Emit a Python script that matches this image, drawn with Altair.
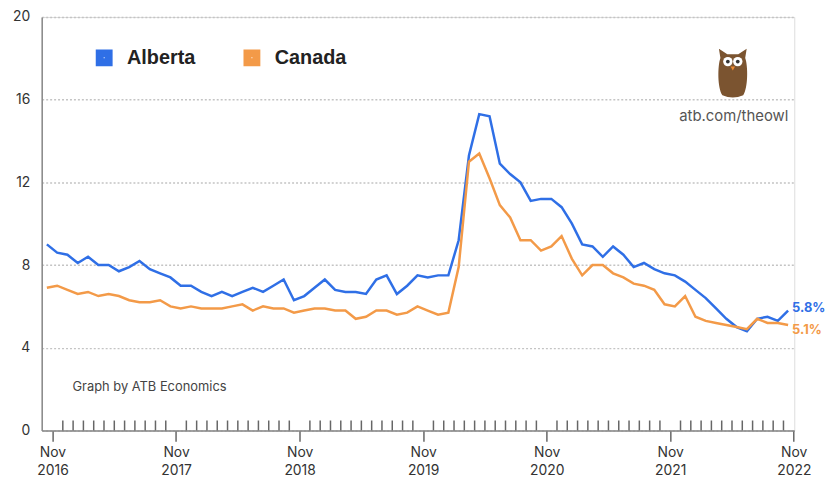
import altair as alt
import pandas as pd

# ---- data (month index 0 = Nov 2016 ... 72 = Nov 2022) ----
months = list(range(73))
alberta = [9.0, 8.6, 8.5, 8.1, 8.4, 8.0, 8.0, 7.7, 7.9, 8.2, 7.8, 7.6,
           7.4, 7.0, 7.0, 6.7, 6.5, 6.7, 6.5, 6.7, 6.9, 6.7, 7.0, 7.3,
           6.3, 6.5, 6.9, 7.3, 6.8, 6.7, 6.7, 6.6, 7.3, 7.5, 6.6, 7.0,
           7.5, 7.4, 7.5, 7.5, 9.2, 13.3, 15.3, 15.2, 12.9, 12.4, 12.0, 11.1,
           11.2, 11.2, 10.8, 10.0, 9.0, 8.9, 8.4, 8.9, 8.5, 7.9, 8.1, 7.8,
           7.6, 7.5, 7.2, 6.8, 6.4, 5.9, 5.4, 5.0, 4.8, 5.4, 5.5, 5.3,
           5.8]
canada = [6.9, 7.0, 6.8, 6.6, 6.7, 6.5, 6.6, 6.5, 6.3, 6.2, 6.2, 6.3,
          6.0, 5.9, 6.0, 5.9, 5.9, 5.9, 6.0, 6.1, 5.8, 6.0, 5.9, 5.9,
          5.7, 5.8, 5.9, 5.9, 5.8, 5.8, 5.4, 5.5, 5.8, 5.8, 5.6, 5.7,
          6.0, 5.8, 5.6, 5.7, 7.9, 13.0, 13.4, 12.2, 10.9, 10.3, 9.2, 9.2,
          8.7, 8.9, 9.4, 8.3, 7.5, 8.0, 8.0, 7.6, 7.4, 7.1, 7.0, 6.8,
          6.1, 6.0, 6.5, 5.5, 5.3, 5.2, 5.1, 5.0, 4.9, 5.4, 5.2, 5.2,
          5.1]
series_names = ["Alberta", "Canada"]
series_colors = ["#2f6fe6", "#f39a48"]
tick_month = "Nov"
tick_years = [2016, 2017, 2018, 2019, 2020, 2021, 2022]
y_ticks = [0, 4, 8, 12, 16, 20]
credit_text = ["Graph by ATB Economics"]
site_text = ["atb.com/theowl"]

rows = []
for name, vals in zip(series_names, [alberta, canada]):
    for m, v in zip(months, vals):
        rows.append({"m": m, "series": name, "rate": v})
df = pd.DataFrame(rows)

tick_offset = 0.55
major_ticks = [tick_offset + 12 * k for k in range(len(tick_years))]
minor_df = pd.DataFrame({"t": [tick_offset + i for i in range(1, 72) if i % 12 != 0]})

label_expr = "[" + ",".join(f"['{tick_month}','{y}']" for y in tick_years) + "]" \
    + f"[round((datum.value - {tick_offset}) / 12)]"

FONT = "Inter"

x_scale = alt.Scale(domain=[-0.5, 72.6], nice=False, zero=False)
y_scale = alt.Scale(domain=[0, 20], nice=False)

x_axis = alt.Axis(values=major_ticks, labelExpr=label_expr, title=None, grid=False,
                  tickSize=11, tickColor="#666", tickWidth=1.5,
                  domainColor="#888", domainWidth=1.5,
                  labelFontSize=14, labelColor="#333", labelLineHeight=18,
                  labelPadding=4, labelFont=FONT, labelFlush=False)
y_axis = alt.Axis(values=y_ticks, title=None, ticks=False, grid=True,
                  gridColor="#c4c4c4", gridDash=[2, 2], gridWidth=1.5,
                  domainColor="#888", domainWidth=1.5,
                  labelFontSize=14, labelColor="#333", labelPadding=12,
                  labelFont=FONT)

color = alt.Color("series:N",
                  scale=alt.Scale(domain=series_names, range=series_colors),
                  legend=alt.Legend(orient="none", legendX=53, legendY=31,
                                    direction="horizontal", title=None,
                                    symbolType="square", symbolSize=81,
                                    symbolStrokeWidth=8, labelFontSize=20,
                                    labelFontWeight="bold", labelColor="#222",
                                    labelFont="Liberation Sans",
                                    labelOffset=13, columnPadding=36))

lines = alt.Chart(df).mark_line(strokeWidth=2.5).encode(
    x=alt.X("m:Q", scale=x_scale, axis=x_axis),
    y=alt.Y("rate:Q", scale=y_scale, axis=y_axis),
    color=color,
)

minor = alt.Chart(minor_df).mark_rule(color="#666", strokeWidth=1.5).encode(
    x=alt.X("t:Q", scale=x_scale),
    y=alt.Y(datum=0, scale=y_scale),
    y2=alt.Y2(datum=0.48),
)

def end_label(name, col, dy):
    return alt.Chart(df).transform_filter(
        (alt.datum.series == name) & (alt.datum.m == months[-1])
    ).transform_calculate(
        lab="format(datum.rate, '.1f') + '%'"
    ).mark_text(align="left", baseline="middle", dx=4, dy=dy, fontSize=13,
                fontWeight="bold", font=FONT, color=col).encode(
        x=alt.X("m:Q", scale=x_scale),
        y=alt.Y("rate:Q", scale=y_scale),
        text="lab:N",
    )

lab_ab = end_label(series_names[0], series_colors[0], -3)
lab_ca = end_label(series_names[1], series_colors[1], 5)

credit = alt.Chart(pd.DataFrame({"t": credit_text})).mark_text(
    align="left", baseline="middle", fontSize=13, font=FONT, color="#444"
).encode(x=alt.value(31), y=alt.value(373), text="t:N")

site = alt.Chart(pd.DataFrame({"t": site_text})).mark_text(
    align="right", baseline="middle", fontSize=15, font=FONT, color="#555"
).encode(x=alt.value(753), y=alt.value(100), text="t:N")

owl_path = ("M-0.5,-0.62 L-0.56,-1 L-0.22,-0.78 L0.22,-0.78 L0.56,-1 L0.5,-0.62 "
            "C0.62,-0.3 0.62,0.6 0.42,0.88 Q0,1.06 -0.42,0.88 "
            "C-0.62,0.6 -0.62,-0.3 -0.5,-0.62 Z")
owl_df = pd.DataFrame({"k": [0]})
owl_body = alt.Chart(owl_df).mark_point(
    shape=owl_path, filled=True, fill="#7b5430", opacity=1, size=2500, strokeWidth=0
).encode(x=alt.value(697), y=alt.value(57))
eye_df = pd.DataFrame({"k": [0, 1]})
owl_eyes = alt.Chart(eye_df).mark_point(
    shape="circle", filled=True, fill="white", opacity=1, size=90, strokeWidth=0
).encode(x=alt.X("k:Q", scale=alt.Scale(domain=[0, 1], range=[692, 702]), axis=None),
         y=alt.value(45))
owl_pupils = alt.Chart(eye_df).mark_point(
    shape="circle", filled=True, fill="#333", opacity=1, size=14, strokeWidth=0
).encode(x=alt.X("k:Q", scale=alt.Scale(domain=[0, 1], range=[692, 702]), axis=None),
         y=alt.value(45))
owl_beak = alt.Chart(owl_df).mark_point(
    shape="triangle-down", filled=True, fill="#f08a30", opacity=1, size=20, strokeWidth=0
).encode(x=alt.value(697), y=alt.value(52))

owl = alt.layer(owl_body, owl_eyes, owl_pupils, owl_beak).resolve_scale(x="independent")

chart = alt.layer(
    alt.layer(minor, lines, lab_ab, lab_ca, credit, site),
    owl,
).resolve_scale(x="independent").properties(
    width=759, height=417,
    autosize=alt.AutoSizeParams(type="none"),
    padding={"left": 34, "top": 7, "right": 33, "bottom": 54},
).configure_view(stroke=None).configure(font=FONT, background="white")

chart.save("out.html", embed_options={"renderer": "svg", "actions": False})
